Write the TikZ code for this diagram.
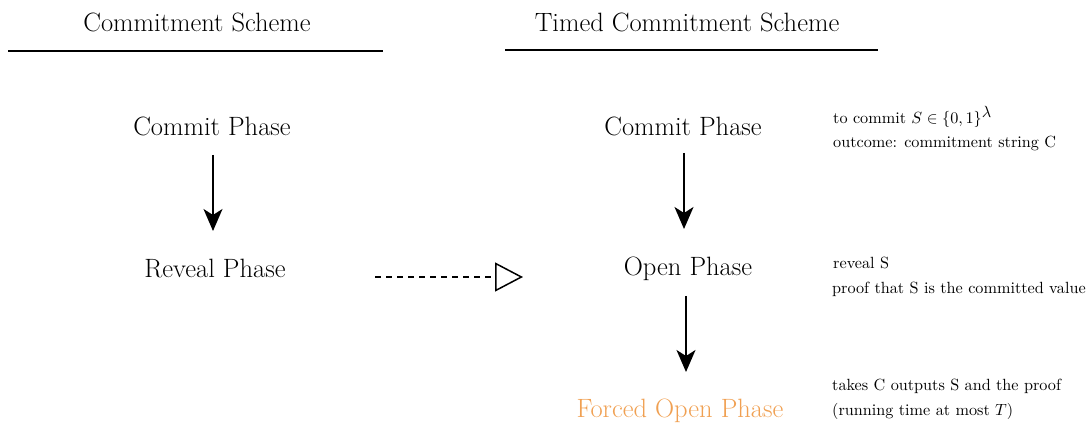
\documentclass[tikz,border=0pt]{standalone}
\usetikzlibrary{arrows.meta}
\definecolor{forced}{RGB}{240,160,82}
% side notes are set in the 10pt design size and enlarged
\newcommand{\sidenote}[1]{\scalebox{1.62}{\fontsize{10}{12}\selectfont #1}}
\begin{document}
\begin{tikzpicture}[x=1pt,y=-1pt,
  heading/.style={font=\fontsize{26.5}{30}\selectfont, inner sep=0pt},
  phase/.style={font=\fontsize{26.5}{30}\selectfont, inner sep=0pt},
  note/.style={inner sep=0pt, anchor=west},
  rule/.style={line width=1.6pt},
  flow/.style={line width=1.6pt, -{Stealth[length=22pt,width=19pt,inset=6pt]}},
  hint/.style={line width=1.3pt, dashed, dash pattern=on 6pt off 5pt,
    -{Triangle[open,length=28pt,width=29pt,line width=1.5pt]}}]
\useasboundingbox (0,0) rectangle (1089,427);

% column headings
\node[heading] (h1) at (197,22) {Commitment Scheme};
\node[heading] (h2) at (687,22) {Timed Commitment Scheme};
\coordinate (r1a) at (8,51);   \coordinate (r1b) at (383,51);
\coordinate (r2a) at (505,50); \coordinate (r2b) at (878,50);
\draw[rule] (r1a) -- (r1b);
\draw[rule] (r2a) -- (r2b);

% classic scheme
\node[phase] (c1) at (212,126) {Commit Phase};
\node[phase] (r1) at (215,269) {Reveal Phase};
\coordinate (c1s) at (213,155); \coordinate (c1e) at (213,231);
\draw[flow] (c1s) -- (c1e);

% timed scheme
\node[phase] (c2) at (683,126) {Commit Phase};
\node[phase] (o2) at (688,269) {Open Phase};
\node[phase, text=forced] (f2) at (680,411) {Forced Open Phase};
\coordinate (c2s) at (684,153); \coordinate (c2e) at (684,229);
\coordinate (o2s) at (686,296); \coordinate (o2e) at (686,372);
\draw[flow] (c2s) -- (c2e);
\draw[flow] (o2s) -- (o2e);

% extension arrow
\coordinate (xs) at (375,277); \coordinate (xe) at (523,277);
\draw[hint] (xs) -- (xe);

% side notes
\node[note] (n1) at (833,117) {\sidenote{to commit $S\in\{0,1\}^{\textstyle\lambda}$}};
\node[note] (n2) at (833,143) {\sidenote{outcome: commitment string C}};
\node[note] (n3) at (833,263) {\sidenote{reveal S}};
\node[note] (n4) at (832,289) {\sidenote{proof that S is the committed value}};
\node[note] (n5) at (832,386) {\sidenote{takes C outputs S and the proof}};
\node[note] (n6) at (832,411) {\sidenote{(running time at most $T$)}};
\end{tikzpicture}
\end{document}
